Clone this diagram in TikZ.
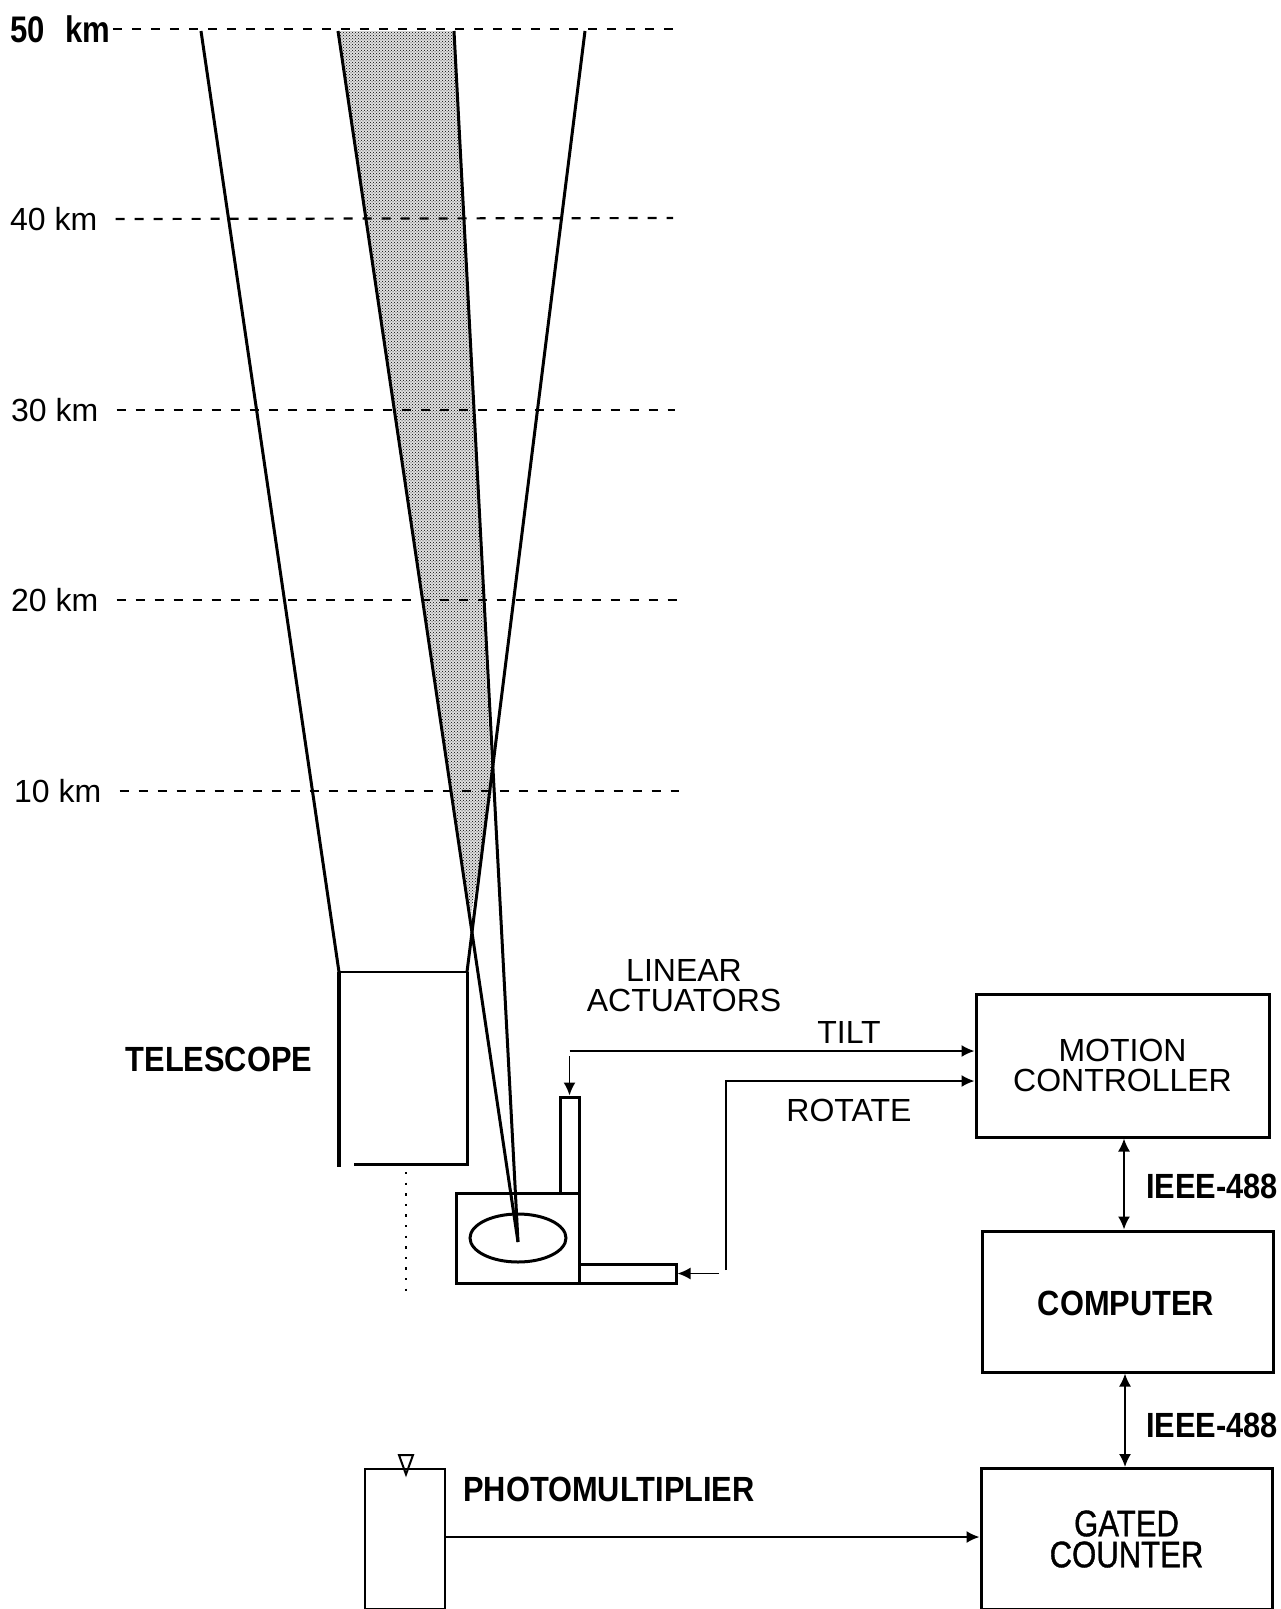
\documentclass[tikz,border=0pt]{standalone}
\usepackage{fontspec}
\setmainfont{Liberation Sans}
\newfontfamily\condfont[FakeStretch=0.88]{Liberation Sans}
\newfontfamily\tallfont[FakeStretch=0.84]{Liberation Sans}
\newfontfamily\gatedfont[FakeStretch=0.84,FakeBold=1]{Liberation Sans}
\usetikzlibrary{arrows.meta,positioning,patterns,shapes.geometric}

\begin{document}
\begin{tikzpicture}[
  x=1pt, y=-1pt,
  lab/.style={font=\fontsize{32}{30.5}\selectfont, inner sep=0pt, align=center},
  blab/.style={font=\fontsize{35}{31}\selectfont\condfont\bfseries, inner sep=0pt, align=center},
  blk/.style={draw, line width=3pt, inner sep=0pt, minimum width=291pt, minimum height=141pt},
  level/.style={line width=2.2pt, dash pattern=on 9pt off 10pt},
  beam/.style={line width=3pt},
  ar/.style={-{Latex[length=13pt,width=12pt]}, line width=1.8pt},
  dar/.style={{Latex[length=13pt,width=12pt]}-{Latex[length=13pt,width=12pt]}, line width=1.8pt}
]
\useasboundingbox (0,0) rectangle (1281,1609);

% beams
\coordinate (la) at (338,31);
\coordinate (lb) at (454,31);
\coordinate (rt) at (585,31);
\coordinate (foc) at (518,1242);
\coordinate (apex) at (471,914);
\coordinate (cross) at (492,791);
\fill[black!12] (la) -- (lb) -- (cross) -- (apex) -- cycle;
\fill[pattern=crosshatch dots, pattern color=black] (la) -- (lb) -- (cross) -- (apex) -- cycle;

% altitude levels
\node[blab, anchor=west, font=\fontsize{37}{31}\selectfont\tallfont\bfseries] (km50) at (10,29) {50\,\, km};
\foreach \h/\yy/\lx in {40/219/10, 30/410/11, 20/600/11, 10/791/14}
  \node[lab, anchor=west] (km\h) at (\lx,\yy) {\h\ km};
\draw[level] (km50.east) ++(2,0) -- (676,29);
\draw[level] (km40.east) ++(18,0) -- (673,218);
\draw[level] (km30.east) ++(18,0) -- (675,410);
\draw[level] (km20.east) ++(18,0) -- (677,600);
\draw[level] (km10.east) ++(18,0) -- (679,791);

% telescope
\coordinate (tl) at (339,972);
\coordinate (tr) at (467,972);
\coordinate (bl) at (339,1167);
\coordinate (bs) at (354,1164);
\coordinate (br) at (467,1164);
\draw[beam] (201,31) -- (tl);
\draw[beam] (rt) -- (tr);
\draw[beam] (la) -- (foc);
\draw[beam] (lb) -- (foc);
\draw[line width=4pt] (tl) -- (bl);
\draw[line width=2.4pt] (tl) -- (tr);
\draw[line width=3pt] (tr) -- (br) -- (bs);
\draw[line width=2.8pt, dash pattern=on 2.4pt off 8.2pt] (406,1172) -- (406,1291);
\node[blab] (tele) at (219,1059) {TELESCOPE};

% mirror and actuators
\node[draw, line width=3pt, inner sep=0pt, minimum width=123pt, minimum height=90pt] (mount) at (517.5,1238) {};
\node[draw, ellipse, line width=3pt, inner sep=0pt, minimum width=96pt, minimum height=48pt] (mirror) at (518,1238) {};
\node[draw, line width=3pt, inner sep=0pt, minimum width=19pt, minimum height=96pt] (tiltact) at (569.5,1145) {};
\node[draw, line width=3pt, inner sep=0pt, minimum width=97pt, minimum height=19pt] (rotact) at (627.5,1273.5) {};
\node[lab] (actlab) at (684,985.5) {LINEAR\\ACTUATORS};

% control boxes
\node[blk, minimum width=293pt, minimum height=143pt] (motion) at (1122.5,1065.5) {};
\node[lab] (motionlab) at (motion) {MOTION\\CONTROLLER};
\node[blk] (computer) at (1127.5,1301.5) {};
\node[blab] (computerlab) at (1126,1303) {COMPUTER};
\node[blk] (counter) at (1126.5,1539) {};
\node[blab, font=\fontsize{37}{31}\selectfont\gatedfont] (counterlab) at (counter) {GATED\\COUNTER};
\node[blab, anchor=west] (busa) at (1146,1186) {IEEE-488};
\node[blab, anchor=west] (busb) at (1146,1425) {IEEE-488};

% photomultiplier
\node[draw, line width=2.6pt, inner sep=0pt, minimum width=80pt, minimum height=140pt] (pmt) at (405,1539) {};
\node[draw, isosceles triangle, shape border rotate=-90, line width=2pt, inner sep=0pt,
  isosceles triangle apex angle=40, minimum height=16pt, minimum width=14pt] (slit) at (406,1460) {};
\node[blab] (pmtlab) at (609,1489) {PHOTOMULTIPLIER};

% signal lines
\coordinate (tiltin) at (motion.west |- 0,1051);
\coordinate (rotin) at (motion.west |- 0,1081);
\coordinate (tiltc) at (tiltact.north |- 0,1051);
\coordinate (rotc) at (726,1081);
\coordinate (rotd) at (726,1270);
\draw[ar] (tiltc) -- (tiltin);
\draw[ar] (tiltc) ++(0,5) -- (tiltact.north);
\draw[ar] (rotd) -- (rotc) -- (rotin);
\draw[ar] (719,1273.5) -- (rotact.east);
\node[lab] (tiltlab) at (849,1032) {TILT};
\node[lab] (rotlab) at (849,1110) {ROTATE};
\draw[dar] (motion.south -| 1124,0) -- (computer.north -| 1124,0);
\draw[dar] (computer.south -| 1125,0) -- (counter.north -| 1125,0);
\draw[ar] (pmt.east |- 0,1537) -- (counter.west |- 0,1537);
\end{tikzpicture}
\end{document}
